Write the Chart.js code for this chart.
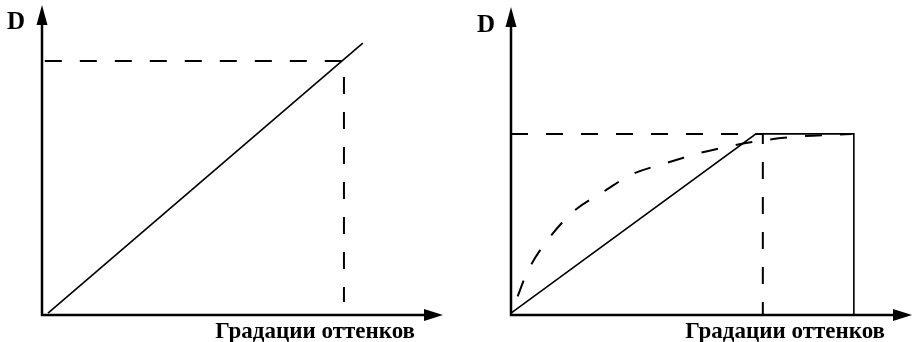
<!DOCTYPE html>
<html lang="ru">
<head>
<meta charset="UTF-8">
<title>Градации оттенков</title>
<script src="https://cdn.jsdelivr.net/npm/chart.js@4.4.2/dist/chart.umd.min.js"></script>
<style>
    body { margin: 0; background: #fff; }
    #wrap { position: relative; width: 915px; height: 342px; }
    canvas { position: absolute; top: 0; }
</style>
</head>
<body>
<div id="wrap">
    <canvas id="left" width="457" height="342" style="left:0"></canvas>
    <canvas id="right" width="458" height="342" style="left:457px"></canvas>
</div>
<script>
const axisTitle = 'Градации оттенков';
const axisD = 'D';

// left panel: straight response
const leftLineX = [1.5, 80.0];
const leftLineY = [0.6, 87.7];
const leftGuideX = [0.7, 75.3, 75.3];
const leftGuideY = [81.9, 81.9, 4.2];

// right panel: clipped response and the dashed curve
const rightLineX = [0, 61.1, 85.5, 85.5];
const rightLineY = [0.6, 58.8, 58.8, 0];
const rightGuideX = [0, 62.8, 62.8];
const rightGuideY = [58.8, 58.8, 0];
const rightCurveX = [0.2, 1.5, 4.7, 9.7, 16.0, 22.9, 30.4, 38.9, 47.1, 55.4, 64.0, 72.5, 81.7, 85.0];
const rightCurveY = [0.5, 5.5, 15.6, 25.3, 34.1, 39.9, 45.8, 49.4, 52.6, 55.0, 56.9, 58.0, 58.6, 58.8];

function pts(xs, ys) {
    return xs.map((x, i) => ({ x: x, y: ys[i] }));
}

const axesPlugin = {
    id: 'axes',
    afterDatasetsDraw(chart, args, opts) {
        const ctx = chart.ctx;
        const x = chart.scales.x, y = chart.scales.y;
        const x0 = x.getPixelForValue(0), y0 = y.getPixelForValue(0);
        const xEnd = x.getPixelForValue(x.max), yEnd = y.getPixelForValue(y.max);
        ctx.save();
        ctx.strokeStyle = '#000';
        ctx.fillStyle = '#000';
        ctx.lineWidth = 2.5;
        ctx.beginPath();
        ctx.moveTo(x0, y0);
        ctx.lineTo(x0, yEnd + 16);
        ctx.moveTo(x0 - 1.2, y0);
        ctx.lineTo(xEnd - 14, y0);
        ctx.stroke();
        // arrow heads
        ctx.beginPath();
        ctx.moveTo(x0, yEnd);
        ctx.lineTo(x0 - 5.5, yEnd + 20);
        ctx.lineTo(x0 + 5.5, yEnd + 20);
        ctx.closePath();
        ctx.fill();
        ctx.beginPath();
        ctx.moveTo(xEnd, y0);
        ctx.lineTo(xEnd - 19, y0 - 6);
        ctx.lineTo(xEnd - 19, y0 + 6);
        ctx.closePath();
        ctx.fill();
        // labels
        ctx.textBaseline = 'alphabetic';
        ctx.font = 'bold 25px "Liberation Serif"';
        ctx.textAlign = 'left';
        ctx.fillText(axisD, x0 + opts.dDx, yEnd + opts.dDy);
        ctx.font = 'bold 23px "Liberation Serif"';
        ctx.textAlign = 'right';
        ctx.fillText(axisTitle, xEnd + opts.tDx, y0 + 23);
        ctx.restore();
    }
};

function makeChart(id, datasets, padding, labelPos) {
    return new Chart(document.getElementById(id), {
        type: 'line',
        data: { datasets: datasets },
        options: {
            responsive: false,
            animation: false,
            devicePixelRatio: 1,
            layout: { padding: padding },
            elements: { point: { radius: 0, hoverRadius: 0 } },
            scales: {
                x: { type: 'linear', min: 0, max: 100, display: false },
                y: { type: 'linear', min: 0, max: 100, display: false }
            },
            plugins: {
                legend: { display: false },
                tooltip: { enabled: false },
                axes: labelPos
            }
        },
        plugins: [axesPlugin]
    });
}

function solid(data) {
    return { data: data, borderColor: '#000', borderWidth: 1.6, tension: 0, clip: false };
}
function dashed(data, tension, offset) {
    return {
        data: data, borderColor: '#000', borderWidth: 2, tension: tension || 0,
        borderDash: [17, 18], borderDashOffset: offset || 0, clip: false
    };
}

makeChart('left', [
    solid(pts(leftLineX, leftLineY)),
    dashed(pts(leftGuideX, leftGuideY))
], { left: 42, right: 14, top: 5, bottom: 27 }, { dDx: -35, dDy: 24, tDx: -28 });

makeChart('right', [
    solid(pts(rightLineX, rightLineY)),
    dashed(pts(rightGuideX, rightGuideY)),
    dashed(pts(rightCurveX, rightCurveY), 0.35, 17)
], { left: 54, right: 3, top: 7, bottom: 27 }, { dDx: -34, dDy: 25, tDx: -27 });
</script>
</body>
</html>
